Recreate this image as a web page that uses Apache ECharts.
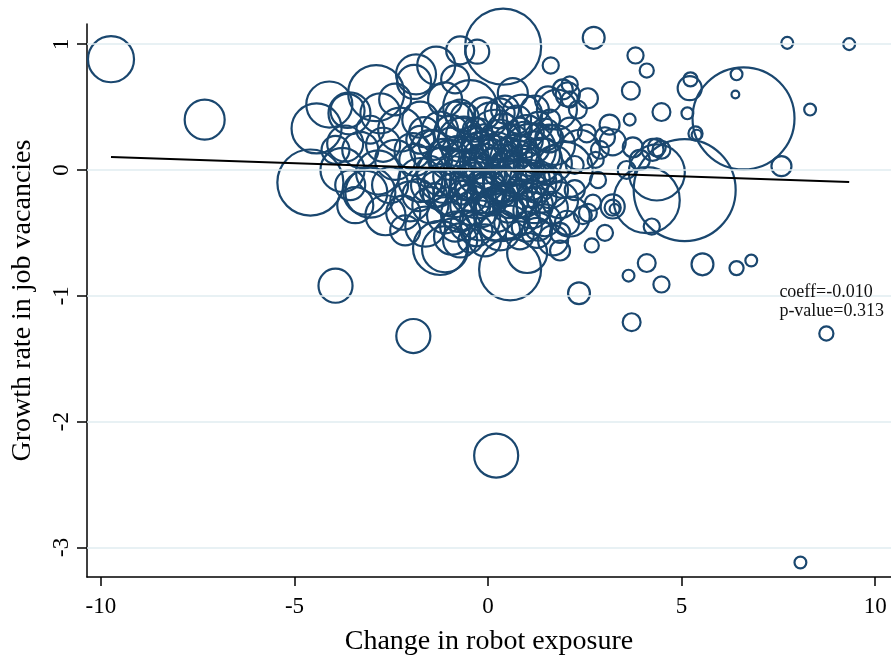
<!DOCTYPE html>
<html>
<head>
<meta charset="utf-8">
<script src="https://cdn.jsdelivr.net/npm/echarts@6/dist/echarts.min.js"></script>
<style>html,body{margin:0;padding:0;background:#fff;}#c{width:891px;height:658px;}</style>
</head>
<body>
<div id="c"></div>
<script>
// ---- data ----
var xTicks = [-10, -5, 0, 5, 10];
var yTicks = [-3, -2, -1, 0, 1];
var xs = [
 -9.74,-7.32,-3.94,-1.93,0.21,8.07,8.74,3.71,2.35,4.48,
 3.63,4.10,5.54,6.42,6.80,2.73,7.73,9.33,3.81,4.10,
 3.69,4.48,3.66,5.15,5.21,5.23,5.36,5.39,6.60,6.42,
 6.39,8.32,7.58,5.08,4.36,4.10,4.23,4.36,4.25,4.48,
 3.92,3.58,3.22,3.22,3.27,3.02,2.68,2.58,2.71,2.84,
 2.11,1.86,1.26,1.98,3.14,3.22,3.02,2.55,2.37,2.58,
 1.93,2.06,1.78,1.62,3.74,1.86,
 0.39,-0.72,-0.28,-1.34,-1.91,-1.86,-2.89,-4.10,-4.43,-3.63,
 -3.58,-2.78,-4.59,-0.46,0.64,0.88,
 0.57,-1.11,1.01,1.68,2.45,-0.72,0.31,2.04,-1.24,-1.62,
 -0.93,-2.19,-2.01,-3.17,-2.84,-3.76,-3.69,-2.71,-3.04,
 -2.40,-3.30,-2.27,-1.75,-2.53,-3.43,-2.65,-1.75,-1.49,-1.88,
 -1.24,-2.14,-1.49,-3.04,-3.94,-3.56,-2.40,-1.11,-0.85,
 -0.98,-0.72,-0.46,-0.21,0.05,0.31,0.44,0.70,0.95,1.08,
 1.34,1.47,1.60,-0.85,-0.46,-0.08,0.18,0.57,0.82,1.21,
 1.47,-0.59,-0.21,-1.24,-1.11,-0.72,0.05,0.44,1.21,1.55,
 -0.34,0.82,-0.85,-0.34,0.18,0.57,0.95,-0.08,0.31,-0.59,
 1.08,1.47,0.70,-0.21,0.31,-0.46,-1.24,-1.49,-0.98,-0.85,
 0.18,-0.26,0.82,1.08,-1.11,0.31,1.73,1.86,2.11,2.24,
 1.60,-0.46,0.82,-0.08,-1.37,-1.75,2.78,2.89,2.24,2.32,
 2.11,2.11,
 -1.40,-1.30,-1.15,-1.05,-0.95,-0.90,-0.80,-0.75,-0.68,-0.62,
 -0.55,-0.50,-0.42,-0.38,-0.30,-0.25,-0.18,-0.12,-0.05,0.00,
 0.08,0.12,0.20,0.25,0.35,0.40,0.48,0.52,0.60,0.65,
 0.75,0.78,0.88,0.92,1.00,1.05,1.12,1.18,1.25,1.30,
 1.38,1.42,1.52,1.58,1.65,1.70,-1.55,-1.65,-1.80,-1.95,
 -0.85,-0.30,0.15,0.60,1.00,-0.60,-0.10,0.30,0.75,1.30,
 -0.40,0.10,0.45,0.85,-0.20,0.55,1.15,-0.70,0.28,-0.10
];
var ys = [
 0.88,0.40,-0.92,-1.32,-2.27,-3.12,-1.30,-1.21,-0.98,-0.91,
 -0.84,-0.74,-0.75,-0.78,-0.72,1.05,1.01,1.00,0.91,0.79,
 0.63,0.46,0.40,0.45,0.65,0.72,0.29,0.28,0.41,0.76,
 0.60,0.48,0.03,-0.16,-0.02,-0.24,-0.45,0.18,0.16,0.16,
 0.08,0.00,-0.29,-0.30,-0.31,-0.50,-0.60,-0.34,-0.26,-0.08,
 -0.37,-0.50,-0.50,0.00,0.36,0.22,0.26,0.29,0.16,0.57,
 0.64,0.60,0.48,0.83,0.18,-0.64,
 0.98,0.95,0.94,0.83,0.70,0.76,0.61,0.52,0.33,0.47,
 0.45,0.45,-0.10,0.50,0.61,0.44,
 -0.79,-0.63,-0.66,-0.56,-0.36,-0.56,-0.48,-0.42,-0.62,-0.45,
 -0.53,-0.34,-0.25,-0.18,-0.02,0.00,0.21,0.20,-0.18,
 0.08,0.16,0.32,0.40,-0.12,-0.28,-0.36,-0.08,0.16,0.08,
 0.32,-0.48,-0.28,0.32,0.16,-0.12,0.56,0.56,0.72,
 0.08,0.24,-0.04,0.16,0.04,0.24,-0.08,0.08,0.24,-0.08,
 0.08,0.28,-0.16,-0.20,-0.28,-0.20,-0.32,-0.24,-0.36,-0.28,
 -0.40,-0.44,-0.40,-0.08,-0.36,0.44,0.40,0.48,0.48,0.56,
 0.32,0.32,0.08,0.08,-0.04,0.16,0.00,-0.12,-0.20,-0.16,
 -0.20,-0.04,-0.12,-0.28,0.08,0.20,0.08,0.00,0.24,0.40,
 0.28,-0.16,-0.16,0.16,-0.04,-0.36,0.20,-0.24,0.32,-0.16,
 0.40,-0.56,-0.52,-0.56,-0.20,0.24,0.08,0.16,0.04,0.48,
 0.56,0.68,
 0.20,-0.15,0.12,-0.25,0.30,-0.05,0.15,-0.35,0.05,0.28,
 -0.10,0.10,-0.22,0.22,-0.05,0.30,-0.32,0.05,0.20,-0.15,
 0.12,-0.25,0.00,0.18,-0.12,0.32,0.02,-0.30,0.22,-0.05,
 0.12,-0.25,0.05,-0.12,0.30,0.02,-0.32,0.18,-0.10,0.35,
 -0.22,0.12,-0.08,0.25,-0.30,0.05,-0.12,0.30,-0.20,0.15,
 -0.45,-0.48,-0.45,-0.42,-0.45,0.42,0.45,0.45,0.40,-0.45,
 0.00,0.10,-0.20,0.20,-0.10,0.10,-0.05,-0.18,-0.05,0.30
];
var weights = [
 21.2,16,11.6,11.6,19.4,1.4,2,3.2,4.8,2.6,
 1.4,3.2,4.8,2,1.4,4.8,1.4,1.4,2.6,2,
 3.2,3.2,1.4,1.4,5.8,2,2,1,104,1.4,
 0.6,1.4,4,104,31.4,43.6,2.6,3.2,4.8,3.2,
 4,3.2,5.8,2.6,1,2.6,2,3.2,2.6,2.6,
 16,4,9,31.4,4,6.8,4,3.2,16,4,
 4,5.8,16,2.6,4,4,
 57.8,7.8,5.8,14.4,11.6,16,31.4,21.2,25,11.6,
 17.6,16,43.6,29.2,9,16,
 38.4,21.2,16,9,3.2,11.6,16,5.8,29.2,16,
 13,11.6,16,19.4,19.4,19.4,13,11.6,25,
 16,13,19.4,13,13,13,16,19.4,16,10.2,
 13,9,13,7.8,7.8,9,10.2,11.6,7.8,
 16,19.4,25,13,36,16,19.4,25,13,16,
 19.4,10.2,13,19.4,16,13,19.4,13,16,13,
 10.2,9,16,10.2,13,9,11.6,7.8,7.8,6.8,
 5.8,5.8,4,5.8,4,5.8,4,5.8,4,4,
 5.8,4,2.6,3.2,2.6,3.2,5.8,7.8,5.8,13,
 25,31.4,31.4,27,31.4,27,16,13,5.8,4,
 4,5.8,7.8,10.2,5.8,7.8,2.6,3.2,3.2,3.2,
 2.6,2.6,
 9,13,10.2,7.8,11.6,16,9,13,7.8,13,
 11.6,16,9,10.2,13,7.8,11.6,16,9,13,
 10.2,7.8,19.4,9,13,10.2,11.6,9,13,16,
 9,10.2,13,7.8,11.6,9,13,10.2,16,7.8,
 9,11.6,9,7.8,10.2,13,11.6,9,10.2,13,
 9,10.2,7.8,11.6,9,7.8,10.2,9,7.8,7.8,
 4,4,4,4,5.8,5.8,5.8,5.8,2.6,2.6
];
var fitX = [-9.74, 9.33];
var fitY = [0.103, -0.095];
var statLines = ['coeff=-0.010', 'p-value=0.313'];

// ---- chart ----
var pts = xs.map(function (x, i) { return [x, ys[i], weights[i]]; });
var fit = fitX.map(function (x, i) { return [x, fitY[i]]; });
var serif = 'Liberation Serif, Times New Roman, serif';
var navy = '#1a476f';

var chart = echarts.init(document.getElementById('c'), null, { renderer: 'canvas' });
chart.setOption({
  backgroundColor: '#ffffff',
  animation: false,
  grid: { left: 87, right: 0, top: 24, bottom: 81, containLabel: false, outerBoundsMode: 'none' },
  xAxis: {
    type: 'value', min: -10.36, max: 10.41,
    name: 'Change in robot exposure', nameLocation: 'middle', nameGap: 51,
    nameTextStyle: { fontFamily: serif, fontSize: 28, color: '#000' },
    axisLine: { show: true, onZero: false, lineStyle: { color: '#000', width: 1.5 } },
    axisTick: { show: true, length: 9, customValues: xTicks, lineStyle: { color: '#000', width: 1.5 } },
    axisLabel: { customValues: xTicks, margin: 18, fontFamily: serif, fontSize: 23, color: '#000',
                 formatter: function (v) { return String(v); } },
    splitLine: { show: false }
  },
  yAxis: {
    type: 'value', min: -3.235, max: 1.16,
    name: 'Growth rate in job vacancies', nameLocation: 'middle', nameGap: 50, nameRotate: 90,
    nameTextStyle: { fontFamily: serif, fontSize: 28, color: '#000' },
    axisLine: { show: true, onZero: false, lineStyle: { color: '#000', width: 1.5 } },
    axisTick: { show: true, length: 10, customValues: yTicks, lineStyle: { color: '#000', width: 1.5 } },
    axisLabel: { customValues: yTicks, rotate: 90, margin: 14, fontFamily: serif, fontSize: 23, color: '#000',
                 formatter: function (v) { return String(v); } },
    splitLine: { show: false }
  },
  graphic: [{
    type: 'text', right: 7, top: 283, z: 10,
    style: { text: statLines.join('\n'), font: '18px ' + serif, fill: '#111', align: 'right', lineHeight: 19 }
  }],
  series: [
    {
      type: 'line', data: [], z: 1, silent: true,
      markLine: {
        silent: true, symbol: ['none', 'none'], label: { show: false },
        lineStyle: { color: '#e1ecf0', width: 1.5, type: 'solid' },
        data: yTicks.map(function (v) { return { yAxis: v }; })
      }
    },
    {
      type: 'scatter', data: pts, z: 2, silent: true,
      symbol: 'circle',
      symbolSize: function (v) { return Math.sqrt(v[2]) * 10; },
      itemStyle: { color: 'rgba(0,0,0,0)', borderColor: navy, borderWidth: 2.2, opacity: 1 }
    },
    {
      type: 'line', data: fit, z: 3, silent: true, showSymbol: false, symbol: 'none',
      lineStyle: { color: '#000', width: 2 }
    }
  ]
});
</script>
</body>
</html>
